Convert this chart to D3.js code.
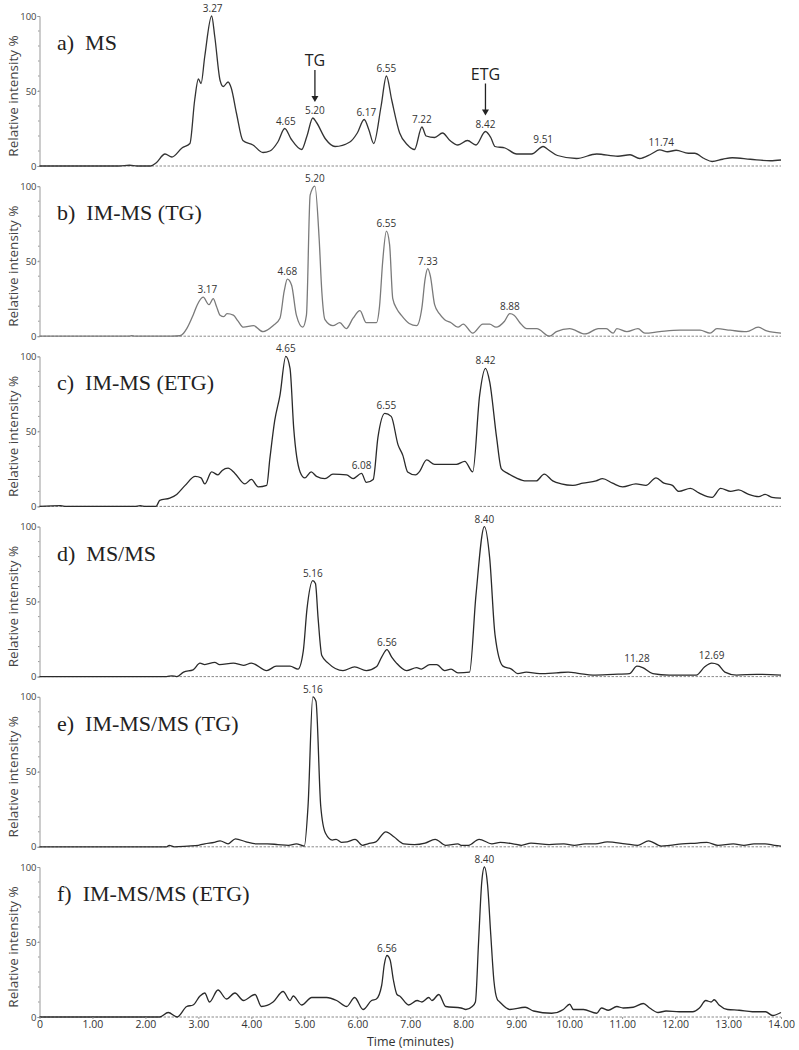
<!DOCTYPE html>
<html>
<head>
<meta charset="utf-8">
<script src="https://cdn.jsdelivr.net/npm/d3@7"></script>
<style>
  body { margin: 0; background: #fff; }
  svg { display: block; }
</style>
</head>
<body>
<script>
// chromatogram traces, [time (min), relative intensity %]
var msData = [[0,0],[1.5,0],[1.7,0.5],[1.85,0],[2.1,0],[2.2,2],[2.37,8],[2.5,6],[2.69,12],[2.84,15],[2.93,44],[3.0,58],[3.05,55],[3.12,73],[3.25,100],[3.31,86],[3.41,57],[3.47,53],[3.56,56],[3.62,52],[3.72,35],[3.84,17],[4.03,14],[4.22,9],[4.35,10],[4.5,16],[4.63,25],[4.75,18],[4.95,11],[5.05,20],[5.16,32],[5.23,29],[5.4,18],[5.58,13],[5.86,16],[6.0,22],[6.13,31],[6.22,24],[6.31,15],[6.45,40],[6.55,60],[6.65,44],[6.8,22],[6.95,14],[7.08,11],[7.22,26],[7.3,20],[7.46,19],[7.61,22],[7.75,17],[7.9,14],[8.08,17],[8.24,14],[8.42,23],[8.52,19],[8.6,13],[8.79,12],[9.01,8],[9.29,8],[9.51,13],[9.6,11],[9.78,7],[10.14,5],[10.52,8],[10.92,6.5],[11.15,7.5],[11.33,5],[11.55,8],[11.71,10.7],[11.86,9.5],[12.02,10.5],[12.25,8.5],[12.37,8.5],[12.55,5],[12.7,3],[12.9,4.5],[13.08,5.5],[13.42,4.5],[13.8,3.5],[14.0,4]];

var imsTgData = [[0,0],[1.7,0],[1.74,0.4],[1.8,0],[2.5,0],[2.65,0.3],[2.72,2],[2.78,5],[2.9,14],[2.98,21],[3.09,26],[3.2,21],[3.28,25],[3.34,20],[3.41,14],[3.48,13],[3.54,15],[3.66,14],[3.75,10],[3.85,6],[4.04,7],[4.22,3],[4.41,7],[4.54,12],[4.62,30],[4.68,38],[4.76,34],[4.85,14],[4.97,6],[5.04,14],[5.11,94],[5.2,100],[5.28,65],[5.33,30],[5.39,11],[5.54,7],[5.67,9],[5.79,5],[5.92,12],[6.05,17],[6.17,9],[6.36,9],[6.42,20],[6.48,50],[6.55,70],[6.61,61],[6.67,25],[6.75,18],[6.83,14],[6.98,8.5],[7.12,7],[7.22,19],[7.28,38],[7.33,45],[7.38,40],[7.46,21],[7.55,15],[7.65,11],[7.77,9],[7.9,6],[8.0,8],[8.18,2],[8.37,8],[8.5,8],[8.62,6],[8.78,10],[8.88,15],[8.96,14],[9.07,9],[9.2,5],[9.39,5],[9.63,0],[9.76,3],[10.01,5],[10.3,1.5],[10.55,5],[10.7,5],[10.83,2],[10.9,5],[11.09,3],[11.3,5],[11.43,2],[11.71,3],[12.09,4],[12.47,4],[12.66,2],[12.79,5],[13.04,4],[13.35,3],[13.57,6],[13.73,3.5],[14.0,2]];

var imsEtgData = [[0,0],[0.4,0.5],[0.5,0],[1.8,0],[1.9,0.5],[2.0,0],[2.2,0],[2.27,4],[2.46,5.5],[2.59,8],[2.75,14],[2.94,20],[3.05,19],[3.12,15],[3.25,23],[3.37,21],[3.45,24],[3.56,25.5],[3.69,22],[3.88,15],[4.0,18],[4.13,13],[4.29,14],[4.35,32],[4.44,57],[4.54,74],[4.65,100],[4.73,92],[4.8,52],[4.92,23],[5.01,19],[5.13,23],[5.23,20],[5.39,18.5],[5.54,21.5],[5.8,21],[5.92,18.5],[6.08,22],[6.17,16],[6.3,18],[6.39,46],[6.52,62],[6.64,60],[6.77,41],[6.86,34],[6.95,23],[7.1,21],[7.17,23],[7.31,31],[7.46,28],[7.68,28],[7.87,28],[8.03,30],[8.18,23],[8.31,74],[8.42,92],[8.5,83],[8.63,46],[8.72,25],[8.84,22],[9.0,19],[9.19,17],[9.38,17],[9.53,21.5],[9.69,17],[9.85,15],[10.07,14],[10.26,15.5],[10.51,17],[10.63,18.5],[10.82,15.5],[11.01,13],[11.26,15],[11.45,14],[11.64,19],[11.79,15.5],[11.95,14],[12.07,10],[12.29,12],[12.45,9],[12.61,6.5],[12.7,6],[12.86,12],[13.05,10],[13.2,11],[13.39,8],[13.58,6.5],[13.7,8],[13.83,6],[14.0,5.5]];

var msmsData = [[0,0],[2.4,0],[2.5,0.5],[2.59,0],[2.72,3],[2.9,4.5],[3.03,9],[3.12,8],[3.31,9.5],[3.4,8],[3.66,9],[3.85,7.5],[4.0,9],[4.29,4],[4.47,7],[4.73,7],[4.88,5],[4.98,17],[5.05,45],[5.16,64],[5.21,62],[5.26,39],[5.33,14],[5.45,9],[5.73,4],[5.95,6.5],[6.17,4],[6.36,6.5],[6.46,13],[6.56,18],[6.65,13],[6.74,9],[6.93,4],[7.12,6],[7.21,5],[7.37,8],[7.5,8],[7.65,4],[7.77,5],[7.9,2.5],[8.12,3],[8.24,54],[8.4,100],[8.5,79],[8.6,28],[8.75,7],[8.91,5],[9.03,2],[9.19,3],[9.44,2],[9.76,2.5],[9.98,3],[10.2,2],[10.45,1],[10.83,1.5],[11.14,2],[11.28,7],[11.39,6],[11.58,2],[11.89,1],[12.4,1],[12.56,6.5],[12.69,9],[12.81,8],[12.94,3],[13.16,1],[13.54,1.5],[14.0,1]];

var imsmsTgData = [[0,0],[2.4,0],[2.45,1],[2.55,0],[2.8,0.5],[3.0,1],[3.12,2],[3.3,3],[3.41,4],[3.56,2],[3.7,5.3],[3.9,3.3],[4.1,2],[4.3,2],[4.5,1.5],[4.7,1],[4.85,2],[5.0,0.5],[5.07,27],[5.16,100],[5.22,97],[5.31,27],[5.4,9],[5.53,4.5],[5.6,5],[5.7,3],[5.81,3.3],[5.96,5],[6.1,1],[6.2,2],[6.35,3.3],[6.54,10],[6.69,6.7],[6.88,2],[7.08,1.5],[7.28,2.5],[7.47,5],[7.67,1],[7.9,2],[7.96,1],[8.1,1],[8.3,5],[8.54,2],[8.7,3],[8.94,2],[9.1,1],[9.28,2.5],[9.62,1.5],[9.9,2],[10.1,1],[10.3,2],[10.5,2],[10.72,3.3],[11.06,2],[11.3,1],[11.5,4],[11.74,0.5],[11.9,1],[12.13,2],[12.42,2.5],[12.6,3],[12.81,1],[13.1,2],[13.3,1],[13.49,2],[13.7,2],[13.88,1],[14.0,0.5]];

var imsmsEtgData = [[0,0],[2.27,0],[2.43,3],[2.6,0],[2.78,7],[2.9,8],[3.03,14],[3.12,16],[3.21,10],[3.37,18],[3.53,12],[3.69,16],[3.85,11],[4.07,15],[4.19,7],[4.41,10],[4.6,17],[4.73,11],[4.79,14],[4.95,8],[5.14,13],[5.42,13],[5.61,11],[5.8,7],[5.95,13],[6.11,5],[6.27,11],[6.36,12],[6.46,21],[6.51,35],[6.56,41],[6.62,38],[6.68,25],[6.75,15],[6.8,14],[6.97,8],[7.13,11],[7.22,10],[7.35,13],[7.41,11],[7.54,15],[7.67,7],[7.96,6],[8.05,5],[8.17,7],[8.23,10],[8.29,50],[8.35,90],[8.4,100],[8.46,88],[8.52,55],[8.58,24],[8.64,12],[8.69,10],[8.88,5],[9.17,6.5],[9.33,4],[9.67,2.5],[9.89,5],[10.01,8.5],[10.08,5],[10.27,5],[10.52,2.5],[10.61,6],[10.74,4.5],[10.9,7],[11.02,6],[11.21,6.5],[11.4,9],[11.52,6],[11.68,3],[11.83,4],[12.08,3.5],[12.33,3.5],[12.46,6],[12.58,11],[12.68,10],[12.74,11.5],[12.83,8],[12.99,5],[13.21,4.5],[13.46,3.5],[13.71,3.5],[13.84,1],[14.0,3]];

// panel titles and labelled peak times
var titles = ["a)  MS", "b)  IM-MS (TG)", "c)  IM-MS (ETG)", "d)  MS/MS", "e)  IM-MS/MS (TG)", "f)  IM-MS/MS (ETG)"];
var series = [msData, imsTgData, imsEtgData, msmsData, imsmsTgData, imsmsEtgData];
var peakLabels = [
  ["3.27", "4.65", "5.20", "6.17", "6.55", "7.22", "8.42", "9.51", "11.74"],
  ["3.17", "4.68", "5.20", "6.55", "7.33", "8.88"],
  ["4.65", "6.08", "6.55", "8.42"],
  ["5.16", "6.56", "8.40", "11.28", "12.69"],
  ["5.16"],
  ["6.56", "8.40"]
];
var arrowNotes = [["TG", 5.20], ["ETG", 8.42]];
var xTicks = [0, 1, 2, 3, 4, 5, 6, 7, 8, 9, 10, 11, 12, 13, 14];
var yTicks = [0, 50, 100];

var w = 799, h = 1050;
var left = 39.5, right = 781;
var panelH = 150, firstTop = 16, step = 170.2;
var lineColors = ["#333", "#7a7a7a", "#2a2a2a", "#2a2a2a", "#2a2a2a", "#2a2a2a"];

var svg = d3.select("body").append("svg")
    .attr("width", w)
    .attr("height", h);

var x = d3.scaleLinear().domain([0, 14]).range([left, right]);

var line = d3.line()
    .curve(d3.curveMonotoneX);

series.forEach(function(data, i){
    var top = firstTop + i * step;
    var y = d3.scaleLinear().domain([0, 100]).range([top + panelH, top]);
    var g = svg.append("g").attr("class", "panel");

    // dotted baseline
    g.append("line")
        .attr("x1", x(0)).attr("x2", x(14))
        .attr("y1", y(0)).attr("y2", y(0))
        .attr("stroke", "#8a8a8a")
        .attr("stroke-width", 1)
        .attr("stroke-dasharray", "2.5,1.5");

    // y axis
    var yAxis = d3.axisLeft(y).tickValues(yTicks).tickSize(2).tickFormat(d3.format("d"));
    var ya = g.append("g").attr("transform", "translate(" + left + ",0)").call(yAxis);
    ya.select(".domain").attr("stroke", "#999");
    ya.selectAll(".tick line").attr("stroke", "#999");
    ya.selectAll(".tick text")
        .attr("font-family", "Open Sans, sans-serif")
        .attr("font-size", 9.5)
        .attr("fill", "#444")
        .attr("x", -3);
    ya.selectAll(".minor").data(d3.range(10, 100, 10)).enter().append("line")
        .attr("class", "minor")
        .attr("x1", -1.5).attr("x2", 0)
        .attr("y1", function(d){ return y(d); })
        .attr("y2", function(d){ return y(d); })
        .attr("stroke", "#999");

    g.append("text")
        .attr("transform", "translate(18," + (top + panelH / 2 + 5) + ") rotate(-90)")
        .attr("text-anchor", "middle")
        .attr("font-family", "Open Sans, sans-serif")
        .attr("font-size", 13.5)
        .attr("fill", "#444")
        .text("Relative intensity %");

    // trace
    line.x(function(d){ return x(d[0]); })
        .y(function(d){ return y(d[1]); });
    g.append("path")
        .datum(data)
        .attr("d", line)
        .attr("fill", "none")
        .attr("stroke", lineColors[i])
        .attr("stroke-width", 1.3);

    // title
    g.append("text")
        .attr("x", 57)
        .attr("y", top + 34)
        .attr("font-family", "Liberation Serif, serif")
        .attr("font-size", 22)
        .attr("fill", "#222")
        .attr("xml:space", "preserve")
        .text(titles[i]);

    // peak labels
    g.selectAll(".peak").data(peakLabels[i]).enter().append("text")
        .attr("class", "peak")
        .attr("x", function(d){ return x(+d); })
        .attr("y", function(d){
            var t = +d;
            var near = data.filter(function(p){ return Math.abs(p[0] - t) <= 0.1; });
            return y(d3.max(near, function(p){ return p[1]; })) - 4;
        })
        .attr("text-anchor", "middle")
        .attr("font-family", "Open Sans, sans-serif")
        .attr("font-size", 10)
        .attr("fill", "#333")
        .text(function(d){ return d; });

    if (i === 0) {
        arrowNotes.forEach(function(n){
            var t = n[1];
            var near = data.filter(function(p){ return Math.abs(p[0] - t) <= 0.1; });
            var peak = d3.max(near, function(p){ return p[1]; });
            var yEnd = y(peak) - 16;
            var yStart = yEnd - 32;
            g.append("text")
                .attr("x", x(t))
                .attr("y", yStart - 4)
                .attr("text-anchor", "middle")
                .attr("font-family", "Open Sans, sans-serif")
                .attr("font-size", 16)
                .attr("fill", "#222")
                .text(n[0]);
            g.append("line")
                .attr("x1", x(t)).attr("x2", x(t))
                .attr("y1", yStart).attr("y2", yEnd - 3)
                .attr("stroke", "#222").attr("stroke-width", 1.3);
            g.append("path")
                .attr("d", "M" + (x(t) - 3.5) + "," + (yEnd - 6) + "L" + (x(t) + 3.5) + "," + (yEnd - 6) + "L" + x(t) + "," + yEnd + "Z")
                .attr("fill", "#222");
        });
    }

    // bottom axis on last panel
    if (i === series.length - 1) {
        var xa = g.append("g").attr("transform", "translate(0," + y(0) + ")")
            .call(d3.axisBottom(x).tickValues(xTicks).tickSize(2)
                .tickFormat(function(d){ return d === 0 ? "0" : d3.format(".2f")(d); }));
        xa.select(".domain").remove();
        xa.selectAll(".tick line").attr("stroke", "#999");
        xa.selectAll(".tick text")
            .attr("font-family", "Open Sans, sans-serif")
            .attr("font-size", 10.5)
            .attr("fill", "#333")
            .attr("y", 4);
        g.append("text")
            .attr("x", (left + right) / 2)
            .attr("y", y(0) + 29)
            .attr("text-anchor", "middle")
            .attr("font-family", "Open Sans, sans-serif")
            .attr("font-size", 12.5)
            .attr("fill", "#333")
            .text("Time (minutes)");
    }
});
</script>
</body>
</html>
